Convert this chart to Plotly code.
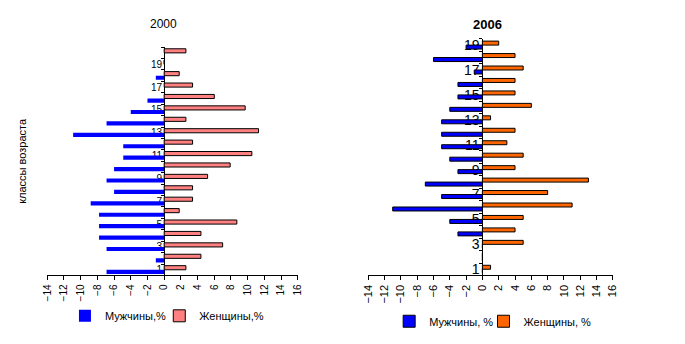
import plotly.graph_objects as go

# ---------------- data ----------------
age_classes_2000 = ["1", "2", "3", "4", "5", "6", "7", "8", "9", "10",
                    "11", "12", "13", "14", "15", "16", "17", "18", "19", "20"]
age_labels_2000 = ["1", "", "3", "", "5", "", "7", "", "9", "",
                   "11", "", "13", "", "15", "", "17", "", "19", ""]
men_2000 = [-6.9, -1.0, -6.9, -7.8, -7.8, -7.8, -8.8, -6.0, -6.9, -6.0,
            -4.9, -4.9, -10.9, -6.9, -4.0, -2.0, 0, -1.0, 0, 0]
women_2000 = [2.6, 4.4, 7.0, 4.4, 8.7, 1.8, 3.4, 3.4, 5.2, 7.9,
              10.5, 3.4, 11.3, 2.6, 9.7, 6.0, 3.4, 1.8, 0, 2.6]

age_classes_2006 = ["1", "2", "3", "4", "5", "6", "7", "8", "9", "10",
                    "11", "12", "13", "14", "15", "16", "17", "18", "19"]
age_labels_2006 = ["1", "", "3", "", "5", "", "7", "", "9", "",
                   "11", "", "13", "", "15", "", "17", "", "19"]
men_2006 = [0, 0, 0, -3, -4, -11, -5, -7, -3, -4,
            -5, -5, -5, -4, -3, -3, -1, -6, -2]
women_2006 = [1, 0, 5, 4, 5, 11, 8, 13, 4, 5,
              3, 4, 1, 6, 4, 4, 5, 4, 2]

x_ticks = [-14, -12, -10, -8, -6, -4, -2, 0, 2, 4, 6, 8, 10, 12, 14, 16]

# ---------------- layout geometry ----------------
W, H = 685, 344
FONT = "Arial, Liberation Sans, sans-serif"

def px_x(p):
    return p / W

def px_y(p):
    return 1 - p / H

L_dom = [px_x(42), px_x(297)]
R_dom = [px_x(368.7), px_x(617.7)]
L_ydom = [px_y(276.7), px_y(45.7)]
R_ydom = [px_y(276.7), px_y(37.3)]

def zero_pos(dom):
    return dom[0] + (0 - (-14)) / 30 * (dom[1] - dom[0])

fig = go.Figure()

wL = 0.36
wR = 0.32

fig.add_trace(go.Bar(
    y=age_classes_2000, x=men_2000, orientation="h", name="Мужчины,%",
    marker=dict(color="#0000FF", line=dict(width=0)),
    width=wL, offset=-wL, xaxis="x", yaxis="y", legend="legend",
    showlegend=True,
))
fig.add_trace(go.Bar(
    y=age_classes_2000, x=women_2000, orientation="h", name="Женщины,%",
    marker=dict(color="#FF8080", line=dict(color="black", width=1)),
    width=wL, offset=0, xaxis="x", yaxis="y", legend="legend2",
    showlegend=True,
))
fig.add_trace(go.Bar(
    y=age_classes_2006, x=men_2006, orientation="h", name="Мужчины, %",
    marker=dict(color="#0000FF", line=dict(color="black", width=1)),
    width=wR, offset=-wR, xaxis="x2", yaxis="y2", legend="legend3",
    showlegend=True,
))
fig.add_trace(go.Bar(
    y=age_classes_2006, x=women_2006, orientation="h", name="Женщины, %",
    marker=dict(color="#FF6600", line=dict(color="black", width=1)),
    width=wR, offset=0, xaxis="x2", yaxis="y2", legend="legend4",
    showlegend=True,
))

xcommon = dict(
    range=[-14, 16], tickvals=x_ticks, tickangle=-90, ticks="outside",
    ticklen=4, tickcolor="black", showline=True, linecolor="black",
    linewidth=1, showgrid=False, zeroline=False,
)
ycommon = dict(
    type="category", tickson="boundaries", ticks="outside", ticklen=3,
    tickcolor="black", showline=True, linecolor="black", linewidth=1,
    showgrid=False, zeroline=False, anchor="free", layer="below traces",
)

def leg(xpx, ypx):
    return dict(orientation="h", x=px_x(xpx), y=px_y(ypx),
                xanchor="left", yanchor="middle", font=dict(size=11),
                itemwidth=30, bgcolor="rgba(0,0,0,0)", visible=True)

fig.update_layout(
    width=W, height=H, autosize=False,
    margin=dict(l=0, r=0, t=0, b=0),
    paper_bgcolor="white", plot_bgcolor="white",
    font=dict(family=FONT, color="black"),
    barmode="overlay",
    showlegend=True,
    xaxis=dict(domain=L_dom, anchor="y", tickfont=dict(size=10), **xcommon),
    yaxis=dict(domain=L_ydom, range=[-0.5, 19.5],
               categoryorder="array", categoryarray=age_classes_2000,
               tickvals=age_classes_2000, ticktext=age_labels_2000,
               position=zero_pos(L_dom), tickfont=dict(size=10), **ycommon),
    xaxis2=dict(domain=R_dom, anchor="y2", tickfont=dict(size=11), **xcommon),
    yaxis2=dict(domain=R_ydom, range=[-0.5, 18.5],
                categoryorder="array", categoryarray=age_classes_2006,
                tickvals=age_classes_2006, ticktext=age_labels_2006,
                position=zero_pos(R_dom), tickfont=dict(size=14), **ycommon),
    legend=leg(60, 317.5),
    legend2=leg(156, 317.5),
    legend3=leg(390, 323),
    legend4=leg(486, 323),
    annotations=[
        dict(text="2000", x=px_x(160.5), y=px_y(22), xref="paper", yref="paper",
             showarrow=False, font=dict(size=12), xanchor="center", yanchor="middle"),
        dict(text="<b>2006</b>", x=px_x(490), y=px_y(22.5), xref="paper", yref="paper",
             showarrow=False, font=dict(size=13), xanchor="center", yanchor="middle"),
        dict(text="классы возраста", x=px_x(16), y=px_y(161), xref="paper", yref="paper",
             showarrow=False, textangle=-90, font=dict(size=11),
             xanchor="center", yanchor="middle"),
    ],
)

fig.write_html("out.html")
